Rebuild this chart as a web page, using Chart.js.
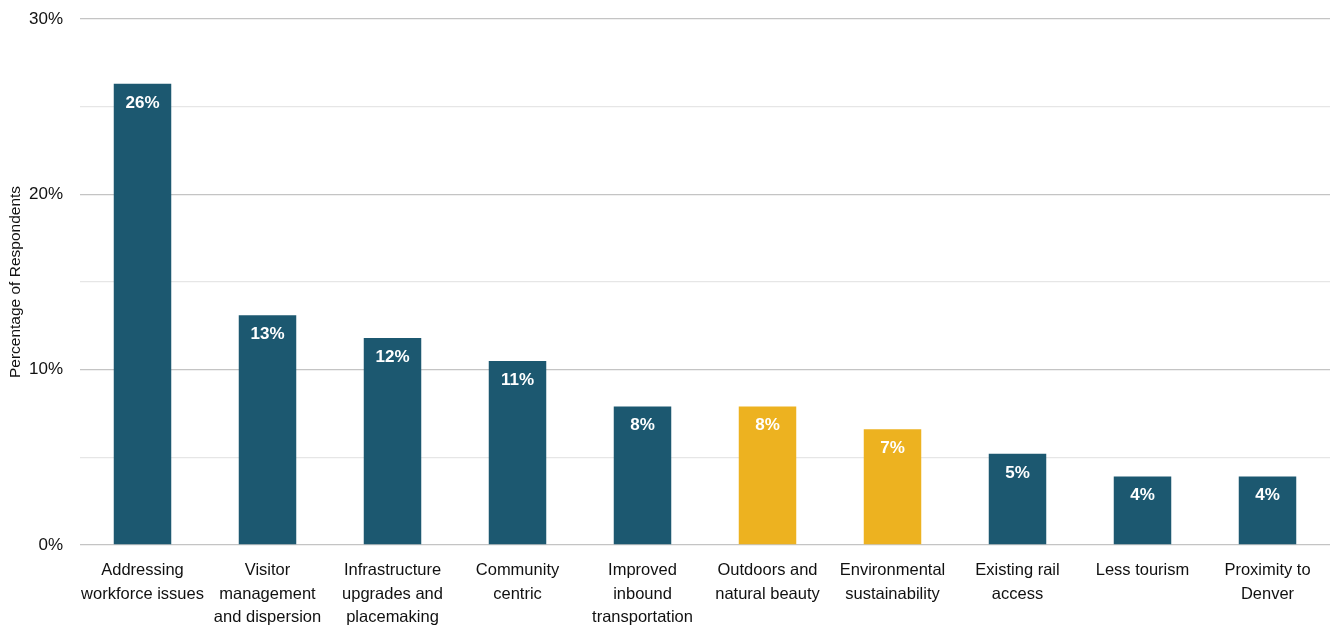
<!DOCTYPE html>
<html>
<head>
<meta charset="utf-8">
<script src="https://cdn.jsdelivr.net/npm/chart.js@4/dist/chart.umd.min.js"></script>
<style>
  html, body { margin: 0; padding: 0; background: #fff; }
  #wrap { width: 1331px; height: 630px; position: relative; }
</style>
</head>
<body>
<div id="wrap"><canvas id="chart"></canvas></div>
<script>
// categories (multi-line labels)
const categories = [
  ['Addressing', 'workforce issues'],
  ['Visitor', 'management', 'and dispersion'],
  ['Infrastructure', 'upgrades and', 'placemaking'],
  ['Community', 'centric'],
  ['Improved', 'inbound', 'transportation'],
  ['Outdoors and', 'natural beauty'],
  ['Environmental', 'sustainability'],
  ['Existing rail', 'access'],
  ['Less tourism'],
  ['Proximity to', 'Denver']
];
// percent of respondents
const values = [26.3, 13.1, 11.8, 10.5, 7.9, 7.9, 6.6, 5.2, 3.9, 3.9];
const highlighted = [false, false, false, false, false, true, true, false, false, false];
const yTicks = [0, 10, 20, 30];

const TEAL = '#1c5870';
const GOLD = '#edb220';
const FONT = "'Liberation Sans Narrow', 'Arial Narrow', 'Liberation Sans', Arial, sans-serif";

// white value labels inside the top of each bar
const barLabels = {
  id: 'barLabels',
  afterDatasetsDraw(chart) {
    const ctx = chart.ctx;
    const meta = chart.getDatasetMeta(0);
    ctx.save();
    ctx.fillStyle = '#fff';
    ctx.font = 'bold 17px ' + FONT;
    ctx.textAlign = 'center';
    ctx.textBaseline = 'middle';
    meta.data.forEach((bar, i) => {
      ctx.fillText(Math.round(values[i]) + '%', bar.x, bar.y + 19);
    });
    ctx.restore();
  }
};

new Chart(document.getElementById('chart'), {
  type: 'bar',
  data: {
    labels: categories,
    datasets: [{
      data: values,
      backgroundColor: highlighted.map(h => h ? GOLD : TEAL),
      borderWidth: 0,
      barPercentage: 0.46,
      categoryPercentage: 1
    }]
  },
  options: {
    responsive: true,
    maintainAspectRatio: false,
    animation: false,
    layout: { padding: { top: 19, right: 1, left: 0, bottom: 0 } },
    plugins: {
      legend: { display: false },
      tooltip: { enabled: false }
    },
    scales: {
      x: {
        afterFit(scale) { scale.height = 85; },
        grid: { display: false, drawTicks: false },
        border: { display: false },
        ticks: {
          color: '#111',
          font: { family: FONT, size: 16.5, lineHeight: 1.42 },
          padding: 14,
          maxRotation: 0,
          autoSkip: false
        }
      },
      y: {
        min: 0,
        max: 30,
        afterFit(scale) {
          scale.width = 80;
          scale.paddingTop = 0;
          scale.paddingBottom = 0;
        },
        afterBuildTicks(scale) {
          scale.ticks = [0, 5, 10, 15, 20, 25, 30].map(v => ({ value: v }));
        },
        grid: {
          drawTicks: false,
          color: ctx => yTicks.includes(ctx.tick.value) ? '#c4c4c4' : '#e6e6e6',
          lineWidth: 1.3
        },
        border: { display: false },
        ticks: {
          color: '#111',
          font: { family: FONT, size: 17 },
          padding: 17,
          callback: v => yTicks.includes(v) ? v + '%' : ''
        },
        title: {
          display: true,
          text: 'Percentage of Respondents',
          color: '#111',
          font: { family: FONT, size: 15.5 },
          padding: 6
        }
      }
    }
  },
  plugins: [barLabels]
});
</script>
</body>
</html>
